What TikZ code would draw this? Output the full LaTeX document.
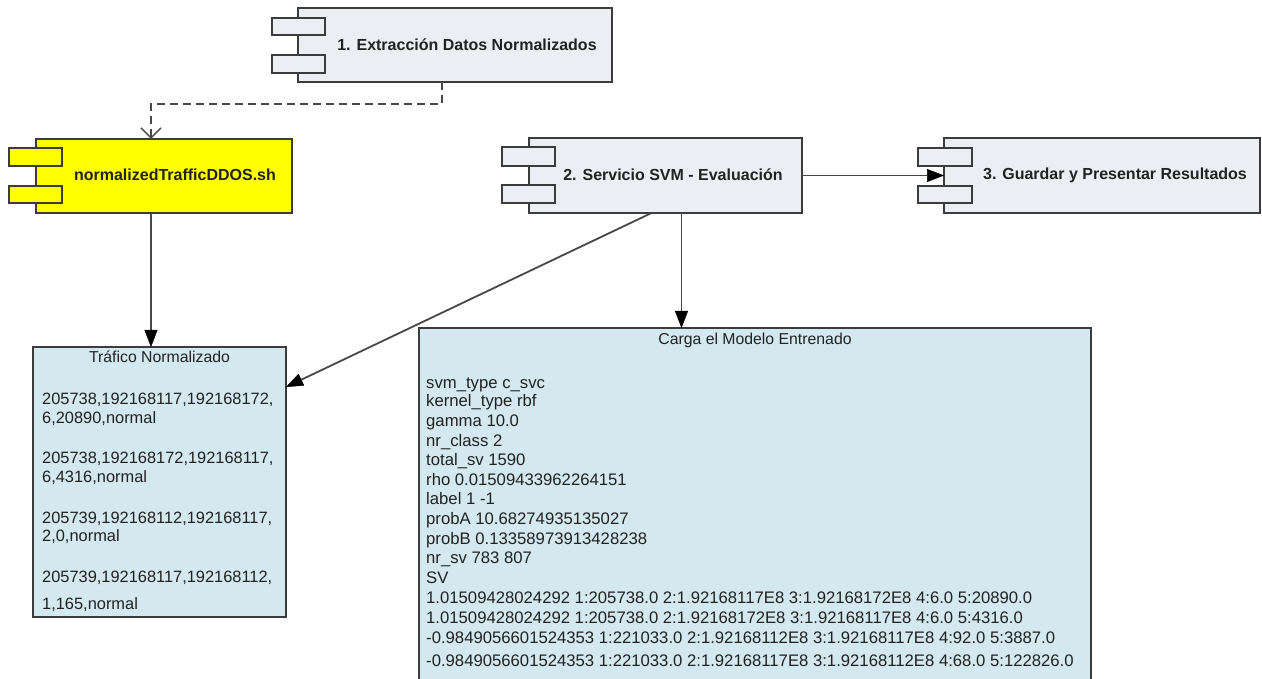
\documentclass[tikz,border=0pt]{standalone}
\usepackage{fontspec}
\setmainfont{Liberation Sans}
\usetikzlibrary{arrows.meta}
\definecolor{compfill}{HTML}{ECEEF3}
\definecolor{notefill}{HTML}{D3E9EF}
\definecolor{hilite}{HTML}{FFFF00}
\definecolor{edgegray}{HTML}{3C3C3C}
\definecolor{wiregray}{HTML}{484848}
\definecolor{txt}{HTML}{222222}

\begin{document}
\begin{tikzpicture}[x=1pt,y=-1pt,
  body/.style={draw=edgegray, line width=1.4pt, fill=compfill, anchor=north west,
               inner sep=0pt, outer sep=0pt},
  port/.style={body},
  comptitle/.style={font=\bfseries\fontsize{16}{19}\selectfont, text=txt, inner sep=0pt},
  notebox/.style={draw=edgegray, line width=1.2pt, fill=notefill, anchor=north west,
                  inner sep=0pt, outer sep=0pt},
  notetitle/.style={font=\fontsize{15.8}{18}\selectfont, text=txt, inner sep=0pt},
  noteline/.style={font=\fontsize{16.4}{19}\selectfont, text=txt, inner sep=0pt, anchor=base west},
  modelline/.style={noteline, font=\fontsize{16.7}{19}\selectfont},
  wire/.style={draw=wiregray, line width=1.8pt,
               -{Triangle[length=17pt,width=13pt,color=black,fill=black,line width=0.5pt]}},
  dashedwire/.style={draw=wiregray, line width=1.6pt, dash pattern=on 8pt off 5pt,
                     -{Straight Barb[length=10pt,width=20pt,line width=1.5pt]}}
]
\clip (0,0) rectangle (1262,679);
\fill[white] (0,0) rectangle (1262,679);

% component 1
\node[body, minimum width=314pt, minimum height=74pt] (c1) at (298,8) {};
\node[port, minimum width=53pt, minimum height=17pt] (c1pa) at (272,18) {};
\node[port, minimum width=53pt, minimum height=18pt] (c1pb) at (272,55) {};
\node[comptitle] (c1t) at (467,45) {1. Extracción Datos Normalizados};

% script component (highlighted)
\node[body, fill=hilite, minimum width=256pt, minimum height=74pt] (yb) at (36,139) {};
\node[port, fill=hilite, minimum width=53pt, minimum height=18pt] (ybpa) at (9,148) {};
\node[port, fill=hilite, minimum width=53pt, minimum height=17pt] (ybpb) at (9,186) {};
\node[comptitle] (ybt) at (175,175) {normalizedTrafficDDOS.sh};

% component 2
\node[body, minimum width=273pt, minimum height=75pt] (svm) at (529,138) {};
\node[port, minimum width=53pt, minimum height=19pt] (svmpa) at (502,147) {};
\node[port, minimum width=53pt, minimum height=18pt] (svmpb) at (502,185) {};
\node[comptitle] (svmt) at (673,175) {2. Servicio SVM - Evaluación};

% component 3
\node[body, minimum width=316pt, minimum height=75pt] (c3) at (944,138) {};
\node[port, minimum width=54pt, minimum height=18pt] (c3pa) at (918,148) {};
\node[port, minimum width=54pt, minimum height=17pt] (c3pb) at (918,186) {};
\node[comptitle] (c3t) at (1115,175) {3. Guardar y Presentar Resultados};

% note: normalized traffic
\node[notebox, minimum width=253pt, minimum height=270pt] (nl) at (33,347) {};
\node[notetitle] (nlt) at (159.5,357) {Tráfico Normalizado};
\foreach \y/\s [count=\i] in {
  398/{205738,192168117,192168172,},
  417/{6,20890,normal},
  457/{205738,192168172,192168117,},
  476/{6,4316,normal},
  517/{205739,192168112,192168117,},
  535/{2,0,normal},
  576/{205739,192168117,192168112,},
  603/{1,165,normal}}
  \node[noteline] (nl\i) at (42,\y+6) {\s};

% note: trained model
\node[notebox, minimum width=672pt, minimum height=380pt] (nr) at (419,328) {};
\node[notetitle] (nrt) at (755,340) {Carga el Modelo Entrenado};
\foreach \y/\s [count=\i] in {
  382/{svm\_type c\_svc},
  400/{kernel\_type rbf},
  420/{gamma 10.0},
  440/{nr\_class 2},
  459/{total\_sv 1590},
  479/{rho 0.01509433962264151},
  498/{label 1 -1},
  518/{probA 10.68274935135027},
  538/{probB 0.13358973913428238},
  557/{nr\_sv 783 807},
  577/{SV},
  597/{1.01509428024292 1:205738.0 2:1.92168117E8 3:1.92168172E8 4:6.0 5:20890.0},
  617/{1.01509428024292 1:205738.0 2:1.92168172E8 3:1.92168117E8 4:6.0 5:4316.0},
  637/{-0.9849056601524353 1:221033.0 2:1.92168112E8 3:1.92168117E8 4:92.0 5:3887.0},
  660/{-0.9849056601524353 1:221033.0 2:1.92168117E8 3:1.92168112E8 4:68.0 5:122826.0}}
  \node[modelline] (nr\i) at (426,\y+6) {\s};

% connectors
\draw[dashedwire] ([xshift=-13pt]c1.south) -- ++(0,22) -| ([xshift=-13pt]yb.north);
\draw[wire] ([xshift=-13pt]yb.south) -- ([xshift=-13pt]yb.south |- nl.north);
\draw[wire] ([xshift=-14pt]svm.south) -- ([yshift=95pt]nl.east);
\draw[wire] ([xshift=16pt]svm.south) -- ([xshift=16pt]svm.south |- nr.north);
\draw[wire] (svm.east) -- (c3.west);
\end{tikzpicture}
\end{document}
